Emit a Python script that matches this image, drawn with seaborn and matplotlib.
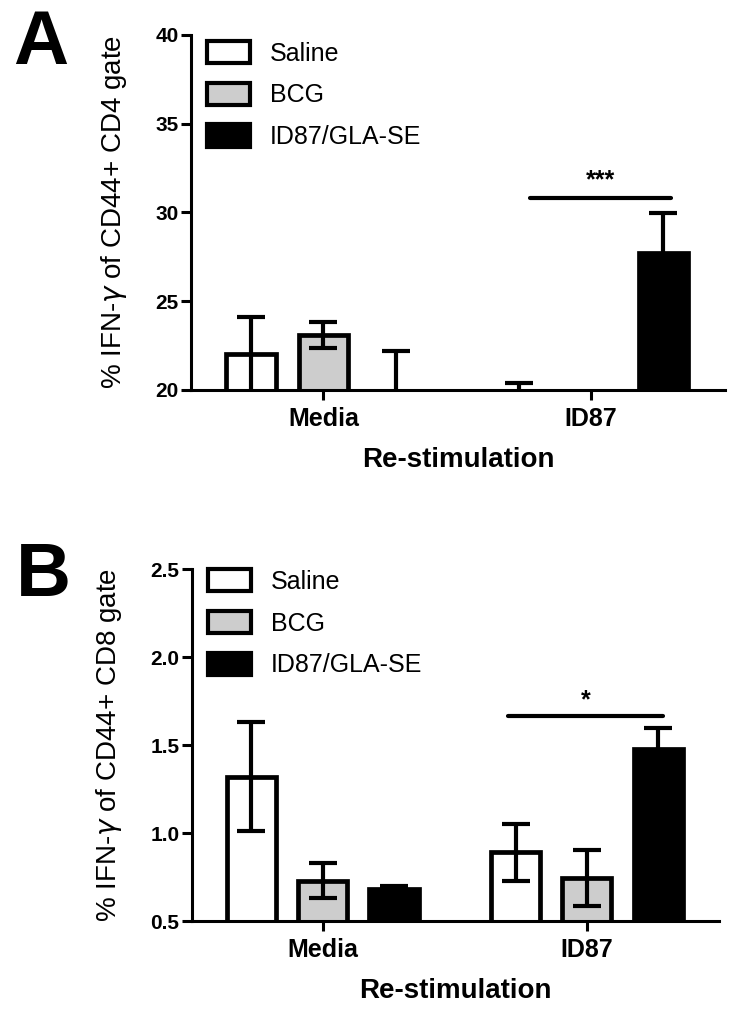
import numpy as np
import pandas as pd
import matplotlib
matplotlib.use("Agg")
import matplotlib.pyplot as plt
import seaborn as sns
from matplotlib.patches import Patch

# ---------------- data ----------------
stimulations = ["Media", "ID87"]
groups = ["Saline", "BCG", "ID87/GLA-SE"]

cd4_media_mean = [22.0, 23.1, 19.2]
cd4_media_sem = [2.1, 0.75, 3.0]
cd4_id87_mean = [19.9, 19.7, 27.7]
cd4_id87_sem = [0.5, 0.1, 2.25]

cd8_media_mean = [1.32, 0.73, 0.68]
cd8_media_sem = [0.31, 0.10, 0.02]
cd8_id87_mean = [0.89, 0.745, 1.48]
cd8_id87_sem = [0.16, 0.16, 0.115]

cd4_ticks = [20, 25, 30, 35, 40]
cd8_ticks = [0.5, 1.0, 1.5, 2.0, 2.5]
cd8_tick_labels = ["0.5", "1.0", "1.5", "2.0", "2.5"]

sig_A = {"label": "***", "y": 30.83, "star_y": 31.8}
sig_B = {"label": "*", "y": 1.665, "star_y": 1.755}

colors = {"Saline": "#ffffff", "BCG": "#cdcdcd", "ID87/GLA-SE": "#000000"}


def make_df(media_mean, media_sem, id87_mean, id87_sem):
    rows = []
    for g, m, s in zip(groups, media_mean, media_sem):
        rows.append({"stim": "Media", "group": g, "mean": m, "sem": s})
    for g, m, s in zip(groups, id87_mean, id87_sem):
        rows.append({"stim": "ID87", "group": g, "mean": m, "sem": s})
    return pd.DataFrame(rows)


df4 = make_df(cd4_media_mean, cd4_media_sem, cd4_id87_mean, cd4_id87_sem)
df8 = make_df(cd8_media_mean, cd8_media_sem, cd8_id87_mean, cd8_id87_sem)

# ---------------- style ----------------
sns.set_theme(style="ticks")
plt.rcParams["font.family"] = ["Liberation Sans", "DejaVu Sans"]
plt.rcParams["axes.linewidth"] = 2.2
for key in ["text.color", "axes.labelcolor", "xtick.color", "ytick.color",
            "axes.edgecolor", "xtick.labelcolor", "ytick.labelcolor"]:
    plt.rcParams[key] = "black"

fig = plt.figure(figsize=(7.42, 10.15), dpi=100)
axA = fig.add_axes([0.2574, 0.6158, 0.7197, 0.3498])
axB = fig.add_axes([0.2588, 0.0926, 0.7100, 0.3468])


def draw_panel(ax, df, ylim, yticks, yticklabels, ylabel, sig, sig_offsets, leg_y):
    sns.barplot(data=df, x="stim", y="mean", hue="group", order=stimulations,
                hue_order=groups, palette=colors, saturation=1, width=0.81,
                gap=0.31, edgecolor="black", linewidth=3.4, errorbar=None,
                legend=False, ax=ax)
    centers = {}
    for cont, g in zip(ax.containers, groups):
        sub = df[df.group == g].set_index("stim").loc[stimulations]
        xs = [p.get_x() + p.get_width() / 2 for p in cont.patches]
        centers[g] = xs
        ax.errorbar(xs, sub["mean"].values, yerr=sub["sem"].values, fmt="none",
                    ecolor="black", elinewidth=3, capsize=10, capthick=3,
                    zorder=3)
    ax.set_ylim(*ylim)
    ax.set_xlim(-0.495, 1.5)
    ax.set_yticks(yticks)
    ax.set_yticklabels(yticklabels)
    sns.despine(ax=ax)
    ax.tick_params(axis="both", width=2.2, length=7, direction="out", color="black")
    ax.tick_params(axis="y", labelsize=15, pad=2)
    ax.tick_params(axis="x", labelsize=18, pad=5)
    for lbl in ax.get_yticklabels() + ax.get_xticklabels():
        lbl.set_fontweight("bold")
    ax.set_ylabel(ylabel, fontsize=20, labelpad=19)
    ax.set_xlabel("Re-stimulation", fontsize=20, fontweight="bold", labelpad=12)

    # significance bracket between Saline and ID87/GLA-SE in ID87 group
    x0 = centers["Saline"][1] + sig_offsets[0]
    x1 = centers["ID87/GLA-SE"][1] + sig_offsets[1]
    ax.plot([x0, x1], [sig["y"], sig["y"]], color="black", lw=3,
            solid_capstyle="round", zorder=3)
    ax.text((x0 + x1) / 2, sig["star_y"], sig["label"], ha="center",
            va="center", fontsize=18, fontweight="bold")

    handles = [Patch(facecolor=colors[g], edgecolor="black", linewidth=3) for g in groups]
    ax.legend(handles, groups, loc="upper left", bbox_to_anchor=(0.03, leg_y),
              frameon=False, fontsize=18, handlelength=1.72, handleheight=1.0,
              handletextpad=0.8, labelspacing=0.68, borderpad=0, borderaxespad=0)


draw_panel(axA, df4, (20, 40), cd4_ticks, [str(t) for t in cd4_ticks],
           "% IFN-$\\gamma$ of CD44+ CD4 gate", sig_A, (0.04, 0.03), 0.983)
draw_panel(axB, df8, (0.5, 2.5), cd8_ticks, cd8_tick_labels,
           "% IFN-$\\gamma$ of CD44+ CD8 gate", sig_B, (-0.03, 0.02), 1.0)

fig.text(41 / 742, 1 - 44 / 1015, "A", fontsize=55, fontweight="bold",
         ha="center", va="center")
fig.text(43 / 742, 1 - 577 / 1015, "B", fontsize=55, fontweight="bold",
         ha="center", va="center")

fig.savefig("out.png", dpi=100)
